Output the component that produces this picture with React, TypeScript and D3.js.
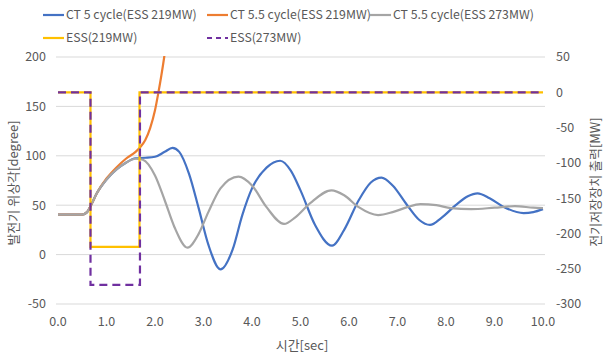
import * as d3 from "d3";

// time [sec], generator phase angle [degree]
const ct5Cycle219: [number, number][] = [
  [0, 40.5], [0.5, 40.5], [0.6, 43], [0.7, 52], [0.8, 62], [1.0, 76], [1.2, 86],
  [1.4, 93], [1.6, 97.5], [1.8, 98], [2.0, 99], [2.2, 104], [2.36, 108], [2.5, 104],
  [2.7, 82], [2.9, 47], [3.1, 10], [3.35, -15], [3.6, 5], [3.8, 40], [4.0, 67],
  [4.3, 88], [4.58, 95], [4.8, 85], [5.0, 65], [5.3, 30], [5.65, 9], [5.9, 25],
  [6.2, 55], [6.45, 73], [6.67, 78], [6.9, 70], [7.2, 50], [7.45, 35], [7.67, 30],
  [7.9, 37], [8.2, 50], [8.45, 59], [8.65, 62], [8.9, 57], [9.2, 48], [9.6, 42],
  [9.8, 43], [10.0, 46],
];

const ct55Cycle219: [number, number][] = [
  [0, 40.5], [0.5, 40.5], [0.6, 43], [0.7, 52], [0.8, 62], [1.0, 77], [1.2, 88],
  [1.4, 97], [1.6, 104], [1.7, 109], [1.8, 116], [1.9, 128], [2.0, 146],
  [2.07, 164], [2.13, 181], [2.19, 200], [2.25, 222],
];

const ct55Cycle273: [number, number][] = [
  [0, 40.5], [0.5, 40.5], [0.6, 43], [0.7, 52], [0.8, 62], [1.0, 76], [1.2, 86],
  [1.4, 93], [1.6, 97], [1.75, 96], [2.0, 80], [2.2, 55], [2.4, 28], [2.67, 7],
  [2.9, 21], [3.1, 43], [3.35, 67], [3.72, 79], [4.0, 70], [4.3, 48], [4.66, 31],
  [4.9, 38], [5.2, 52], [5.64, 65], [5.9, 60], [6.2, 48], [6.6, 40], [6.9, 43],
  [7.2, 48], [7.47, 51], [7.8, 50], [8.1, 47], [8.52, 46], [9.0, 47.5], [9.42, 49],
  [9.8, 47.5], [10.0, 47],
];

// time [sec], ESS output [MW]
const ess219: [number, number][] = [
  [0, 0], [0.67, 0], [0.67, -219], [1.68, -219], [1.68, 0], [10, 0],
];
const ess273: [number, number][] = [
  [0, 0], [0.67, 0], [0.67, -273], [1.69, -273], [1.69, 0], [10, 0],
];

const xTicks = [0, 1, 2, 3, 4, 5, 6, 7, 8, 9, 10];
const leftTicks = [-50, 0, 50, 100, 150, 200];
const rightTicks = [-300, -250, -200, -150, -100, -50, 0, 50];

const font = "'Noto Sans CJK KR', 'Noto Sans', sans-serif";
const textColor = "#595959";

export default function App() {
  const width = 603;
  const height = 355;
  const plot = { left: 56, right: 545, top: 57, bottom: 304 };

  const x = d3.scaleLinear().domain([0, 10]).range([58, 543]);
  const yL = d3.scaleLinear().domain([-50, 200]).range([plot.bottom, plot.top]);
  const yR = d3.scaleLinear().domain([-300, 50]).range([plot.bottom, plot.top]);

  const smooth = d3.line<[number, number]>()
    .x((d) => x(d[0]))
    .y((d) => yL(d[1]))
    .curve(d3.curveMonotoneX);
  const step = d3.line<[number, number]>()
    .x((d) => x(d[0]))
    .y((d) => yR(d[1]));

  const legendRow1 = [
    { label: "CT 5 cycle(ESS 219MW)", color: "#4472C4", x: 43, dash: "" },
    { label: "CT 5.5 cycle(ESS 219MW)", color: "#ED7D31", x: 207, dash: "" },
    { label: "CT 5.5 cycle(ESS 273MW)", color: "#A5A5A5", x: 370, dash: "" },
  ];
  const legendRow2 = [
    { label: "ESS(219MW)", color: "#FFC000", x: 43, dash: "" },
    { label: "ESS(273MW)", color: "#7030A0", x: 207, dash: "5,4" },
  ];

  return (
    <svg
      width={width}
      height={height}
      style={{ position: "absolute", left: 0, top: 0, background: "#fff" }}
      fontFamily={font}
    >
      <defs>
        <clipPath id="plotClip">
          <rect x={plot.left} y={plot.top - 1} width={plot.right - plot.left} height={plot.bottom - plot.top + 2} />
        </clipPath>
      </defs>

      {leftTicks.map((t) => (
        <line key={t} x1={plot.left} x2={plot.right} y1={yL(t)} y2={yL(t)} stroke="#d9d9d9" strokeWidth={1} />
      ))}

      {leftTicks.map((t) => (
        <text key={t} x={46} y={yL(t)} dy="0.35em" textAnchor="end" fontSize={12.5} fill={textColor}>
          {t}
        </text>
      ))}
      {rightTicks.map((t) => (
        <text key={t} x={556} y={yR(t)} dy="0.35em" textAnchor="start" fontSize={12.5} fill={textColor}>
          {t}
        </text>
      ))}
      {xTicks.map((t) => (
        <text key={t} x={x(t)} y={322} dy="0.35em" textAnchor="middle" fontSize={12.5} fill={textColor}>
          {t.toFixed(1)}
        </text>
      ))}

      <text x={302} y={345} dy="0.35em" textAnchor="middle" fontSize={13} fill={textColor}>
        시간[sec]
      </text>
      <text transform="translate(13,183) rotate(-90)" textAnchor="middle" dy="0.35em" fontSize={13} fill={textColor}>
        발전기 위상각[degree]
      </text>
      <text transform="translate(595,182) rotate(-90)" textAnchor="middle" dy="0.35em" fontSize={13} fill={textColor}>
        전기저장장치 출력[MW]
      </text>

      <g clipPath="url(#plotClip)" fill="none" strokeWidth={2.2}>
        <path d={smooth(ct5Cycle219) ?? ""} stroke="#4472C4" />
        <path d={smooth(ct55Cycle219) ?? ""} stroke="#ED7D31" />
        <path d={smooth(ct55Cycle273) ?? ""} stroke="#A5A5A5" />
        <path d={step(ess219) ?? ""} stroke="#FFC000" />
        <path d={step(ess273) ?? ""} stroke="#7030A0" strokeDasharray="8,5" />
      </g>

      {legendRow1.map((l) => (
        <g key={l.label}>
          <line x1={l.x} x2={l.x + 21} y1={15} y2={15} stroke={l.color} strokeWidth={2.2} strokeDasharray={l.dash || undefined} />
          <text x={l.x + 23} y={15} dy="0.35em" fontSize={12.3} fill={textColor}>
            {l.label}
          </text>
        </g>
      ))}
      {legendRow2.map((l) => (
        <g key={l.label}>
          <line x1={l.x} x2={l.x + 21} y1={38} y2={38} stroke={l.color} strokeWidth={2.2} strokeDasharray={l.dash || undefined} />
          <text x={l.x + 23} y={38} dy="0.35em" fontSize={12.3} fill={textColor}>
            {l.label}
          </text>
        </g>
      ))}
    </svg>
  );
}
